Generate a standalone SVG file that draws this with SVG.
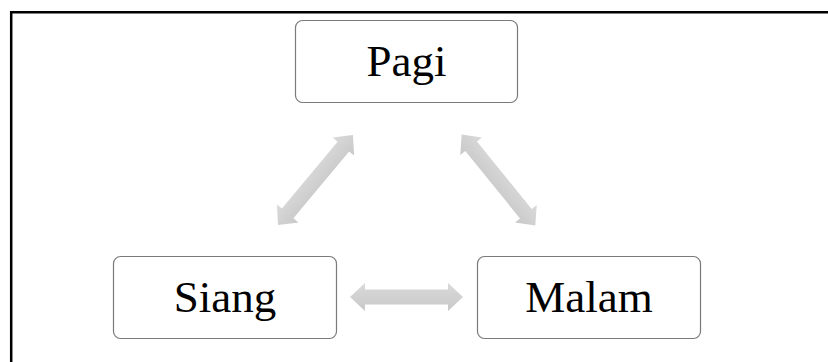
<svg xmlns="http://www.w3.org/2000/svg" width="828" height="362" viewBox="0 0 828 362">
<defs>
<linearGradient id="g" x1="0" y1="0" x2="0" y2="1">
<stop offset="0" stop-color="#dadada"/>
<stop offset="1" stop-color="#c8c8c8"/>
</linearGradient>
<style>
.box{fill:#fff;stroke:#7a7a7a;stroke-width:1.2}
.lbl{font-family:"Liberation Serif","Times New Roman",serif;font-size:45px;fill:#000;text-anchor:middle}
.arr{fill:url(#g)}
.frame{stroke:#000;stroke-width:2.5;fill:none}
</style>
</defs>
<rect width="828" height="362" fill="#fff"/>
<path class="frame" d="M11.2,362 V12.2 H828"/>
<g id="connectors">
<path class="arr" transform="translate(406.5,297)" d="M-56.5,0 L-41.5,-14 L-41.5,-7.5 L41.5,-7.5 L41.5,-14 L56.5,0 L41.5,14 L41.5,7.5 L-41.5,7.5 L-41.5,14 Z"/>
<path class="arr" transform="translate(315.5,180) rotate(-50.2)" d="M-58.5,0 L-43.5,-14 L-43.5,-7.5 L43.5,-7.5 L43.5,-14 L58.5,0 L43.5,14 L43.5,7.5 L-43.5,7.5 L-43.5,14 Z"/>
<path class="arr" transform="translate(498.5,180) rotate(51)" d="M-58.5,0 L-43.5,-14 L-43.5,-7.5 L43.5,-7.5 L43.5,-14 L58.5,0 L43.5,14 L43.5,7.5 L-43.5,7.5 L-43.5,14 Z"/>
</g>
<g id="pagi">
<rect class="box" x="295.5" y="20.5" width="222" height="82" rx="7"/>
<text class="lbl" x="406.5" y="76">Pagi</text>
</g>
<g id="siang">
<rect class="box" x="113.5" y="256.5" width="223" height="82" rx="7"/>
<text class="lbl" x="225" y="312">Siang</text>
</g>
<g id="malam">
<rect class="box" x="477.5" y="256.5" width="223" height="82" rx="7"/>
<text class="lbl" x="589" y="312">Malam</text>
</g>
</svg>
